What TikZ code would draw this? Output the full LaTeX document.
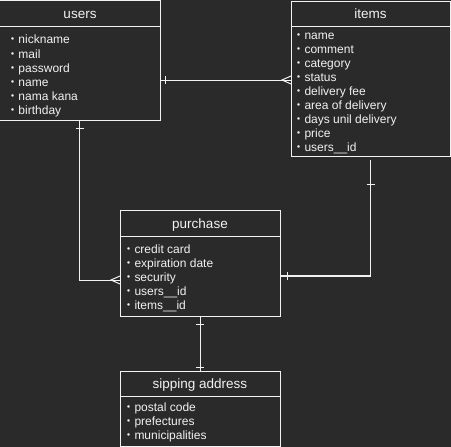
\documentclass[tikz,border=0pt]{standalone}
\usepackage{fontspec}
\setmainfont{Liberation Sans}
\newfontfamily\cjkfont{Noto Sans CJK JP}
\definecolor{bg}{HTML}{2A2A2A}
\definecolor{fg}{HTML}{F2F2F2}
\newcommand{\bul}{{\cjkfont ・}}
\begin{document}
\begin{tikzpicture}[x=1pt,y=-1pt,line width=1pt,
  ent/.style={draw=fg, fill=bg, rectangle, inner sep=0pt, outer sep=0pt, anchor=north west},
  hdr/.style={text=fg, font=\fontsize{13.5}{16}\selectfont, inner sep=0pt, anchor=base},
  row/.style={text=fg, font=\fontsize{12}{14}\selectfont, inner sep=0pt, anchor=base west},
  conn/.style={draw=fg, line width=1pt}]
\fill[bg] (0,0) rectangle (451,447);
\useasboundingbox (0,0) rectangle (451,447);

% entities
\node[ent, minimum width=161, minimum height=119] (users) at (-1,1) {};
\node[ent, minimum width=159, minimum height=155] (items) at (291,1) {};
\node[ent, minimum width=160, minimum height=106] (purchase) at (120,210) {};
\node[ent, minimum width=160, minimum height=75] (sipping) at (120,371) {};

% header separators
\draw[fg] (users.north west) ++(0,25) -- ++(161,0);
\draw[fg] (items.north west) ++(0,25) -- ++(159,0);
\draw[fg] (purchase.north west) ++(0,26) -- ++(160,0);
\draw[fg] (sipping.north west) ++(0,25) -- ++(160,0);

% headers
\node[hdr] (usersh) at (80,18.3) {users};
\node[hdr] (itemsh) at (370.5,18.3) {items};
\node[hdr] (purchaseh) at (200,228.3) {purchase};
\node[hdr] (sippingh) at (200,388.3) {sipping address};

% rows
\foreach \t [count=\i] in {nickname, mail, password, name, nama kana, birthday}
  \node[row] (u\i) at (6,30+14*\i) {\bul\t};
\foreach \t [count=\i] in {name, comment, category, status, delivery fee, area of delivery, days unil delivery, price, users\_\_id}
  \node[row] (it\i) at (292,25.7+14*\i) {\bul\t};
\foreach \t [count=\i] in {credit card, expiration date, security, users\_\_id, items\_\_id}
  \node[row] (p\i) at (122,239+14*\i) {\bul\t};
\foreach \t [count=\i] in {postal code, prefectures, municipalities}
  \node[row] (s\i) at (122,397.7+14*\i) {\bul\t};

% connector users -- items
\path (users.north east) ++(0,79) coordinate (c1a);
\path (items.north west) ++(0,79) coordinate (c1b);
\draw[conn] (c1a) -- (c1b);
\draw[conn] (c1a) ++(5,-4) -- ++(0,8);
\draw[conn] (c1b) ++(0,-4) -- ++(-9,4) -- ++(9,4);

% connector users -- purchase
\path (purchase.north west) ++(0,70) coordinate (c2b);
\draw[conn] (users.south) -- (users.south |- c2b) -- (c2b);
\draw[conn] (users.south) ++(-4,8) -- ++(8,0);
\draw[conn] (c2b) ++(0,-4) -- ++(-9,4) -- ++(9,4);

% connector items -- purchase
\path (items.south) ++(0,4) coordinate (c3a);
\path (purchase.north east) ++(0,66) coordinate (c3b);
\draw[conn] (c3a) -- (c3a |- c3b) -- (c3b);
\draw[conn, line width=1.8pt] (c3a |- c3b) -- (c3b);
\draw[conn] (c3a) ++(-4,24) -- ++(8,0);
\draw[conn] (c3b) ++(7,-4) -- ++(0,8);

% connector purchase -- sipping address
\draw[conn] (purchase.south) -- (sipping.north);
\draw[conn] (purchase.south) ++(-4,8) -- ++(8,0);
\draw[conn] (sipping.north) ++(-4,-4) -- ++(8,0);
\end{tikzpicture}
\end{document}
